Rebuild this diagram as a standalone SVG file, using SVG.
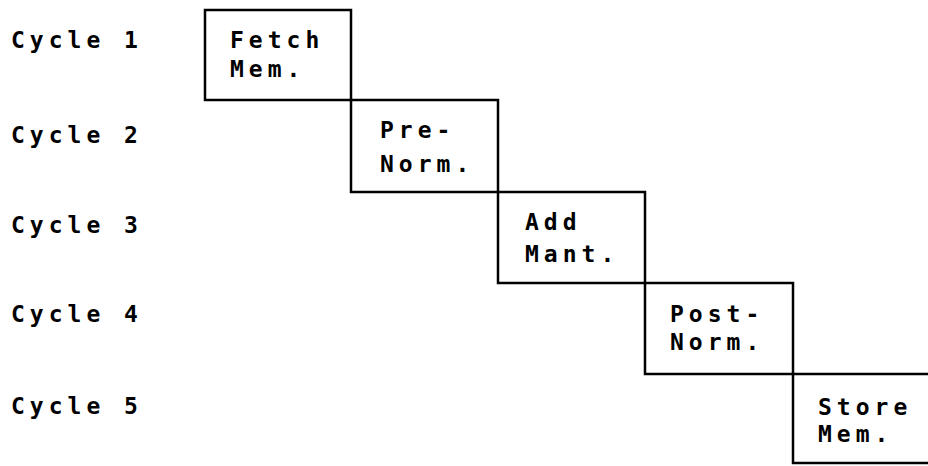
<svg xmlns="http://www.w3.org/2000/svg" width="928" height="466" viewBox="0 0 928 466">
<style>
text{font-family:"DejaVu Sans Mono","Liberation Mono",monospace;font-weight:bold;font-size:23px;letter-spacing:5px;fill:#000}
.box{fill:none;stroke:#000;stroke-width:2.5}
</style>
<rect width="928" height="466" fill="#fff"/>
<g id="labels">
<text x="11" y="48">Cycle 1</text>
<text x="11" y="143">Cycle 2</text>
<text x="11" y="233">Cycle 3</text>
<text x="11" y="322">Cycle 4</text>
<text x="11" y="414">Cycle 5</text>
</g>
<g id="fetch">
<rect class="box" x="205" y="10" width="146" height="90"/>
<text x="230" y="48">Fetch</text>
<text x="230" y="77">Mem.</text>
</g>
<g id="prenorm">
<rect class="box" x="351" y="100" width="147" height="92"/>
<text x="380" y="138">Pre-</text>
<text x="380" y="172">Norm.</text>
</g>
<g id="addmant">
<rect class="box" x="498" y="192" width="147" height="91"/>
<text x="525" y="230">Add</text>
<text x="525" y="262">Mant.</text>
</g>
<g id="postnorm">
<rect class="box" x="645" y="283" width="148" height="91"/>
<text x="670" y="322">Post-</text>
<text x="670" y="350">Norm.</text>
</g>
<g id="storemem">
<path class="box" d="M930 374H793V463H930"/>
<text x="818" y="415">Store</text>
<text x="818" y="442">Mem.</text>
</g>
<g id="connectors"/>
</svg>
